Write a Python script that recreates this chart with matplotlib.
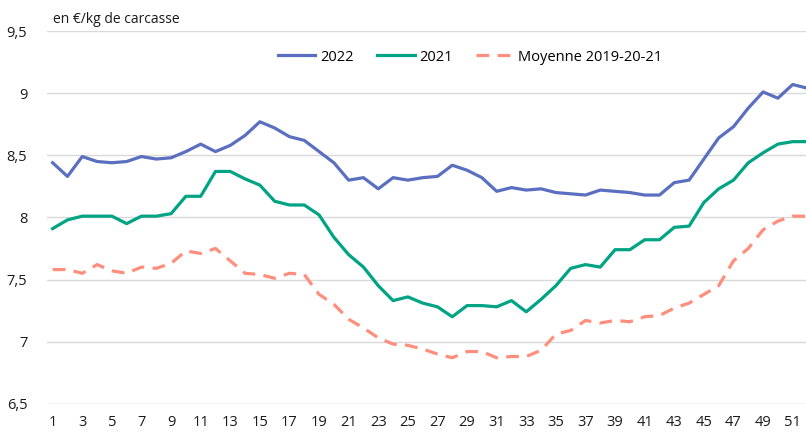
import matplotlib
matplotlib.use('Agg')
import matplotlib.pyplot as plt
from matplotlib.ticker import FuncFormatter

plt.rcParams['font.family'] = ['Open Sans', 'DejaVu Sans']

# Semaines et prix (en €/kg de carcasse)
semaines = list(range(1, 53))
prix_2022 = [8.44, 8.33, 8.49, 8.45, 8.44, 8.45, 8.49, 8.47, 8.48, 8.53,
             8.59, 8.53, 8.58, 8.66, 8.77, 8.72, 8.65, 8.62, 8.53, 8.44,
             8.30, 8.32, 8.23, 8.32, 8.30, 8.32, 8.33, 8.42, 8.38, 8.32,
             8.21, 8.24, 8.22, 8.23, 8.20, 8.19, 8.18, 8.22, 8.21, 8.20,
             8.18, 8.18, 8.28, 8.30, 8.47, 8.64, 8.73, 8.88, 9.01, 8.96,
             9.07, 9.04]
prix_2021 = [7.91, 7.98, 8.01, 8.01, 8.01, 7.95, 8.01, 8.01, 8.03, 8.17,
             8.17, 8.37, 8.37, 8.31, 8.26, 8.13, 8.10, 8.10, 8.02, 7.84,
             7.70, 7.60, 7.45, 7.33, 7.36, 7.31, 7.28, 7.20, 7.29, 7.29,
             7.28, 7.33, 7.24, 7.34, 7.45, 7.59, 7.62, 7.60, 7.74, 7.74,
             7.82, 7.82, 7.92, 7.93, 8.12, 8.23, 8.30, 8.44, 8.52, 8.59,
             8.61, 8.61]
prix_moyenne = [7.58, 7.58, 7.55, 7.62, 7.57, 7.55, 7.60, 7.59, 7.63, 7.73,
                7.71, 7.75, 7.65, 7.55, 7.54, 7.51, 7.55, 7.54, 7.38, 7.30,
                7.18, 7.11, 7.03, 6.98, 6.97, 6.94, 6.90, 6.87, 6.92, 6.92,
                6.87, 6.88, 6.88, 6.93, 7.06, 7.09, 7.17, 7.15, 7.17, 7.16,
                7.20, 7.21, 7.27, 7.31, 7.38, 7.45, 7.65, 7.75, 7.90, 7.97,
                8.01, 8.01]

fig = plt.figure(figsize=(8.06, 4.32), dpi=100)
ax = fig.add_axes([0.058, 0.0655, 0.942, 0.8625])

ax.plot(semaines, prix_2022, color='#5A6FC0', lw=2.3, label='2022')
ax.plot(semaines, prix_2021, color='#00A383', lw=2.3, label='2021')
ax.plot(semaines, prix_moyenne, color='#FF8E7C', lw=2.3, dashes=(4, 2.6),
        label='Moyenne 2019-20-21')

ax.set_ylim(6.5, 9.5)
ax.set_xlim(0.6, 51.9)
ax.set_yticks([6.5, 7, 7.5, 8, 8.5, 9, 9.5])
ax.set_xticks(range(1, 52, 2))
ax.yaxis.set_major_formatter(FuncFormatter(lambda v, p: f"{v:g}".replace('.', ',')))
ax.grid(axis='y', color='#D9D9D9', lw=1)
ax.set_axisbelow(True)
for s in ax.spines.values():
    s.set_visible(False)
ax.tick_params(length=0, labelsize=10.5, colors='#1a1a1a')
ax.tick_params(axis='y', pad=14)
ax.tick_params(axis='x', pad=8)

fig.text(0.066, 0.955, 'en €/kg de carcasse', fontsize=10, color='#1a1a1a', va='center')
fig.legend(loc='center', bbox_to_anchor=(0.583, 0.868), ncol=3, frameon=False,
           fontsize=10.5, handlelength=2.6, columnspacing=1.6, handletextpad=0.3)

fig.savefig('out.png', dpi=100)
